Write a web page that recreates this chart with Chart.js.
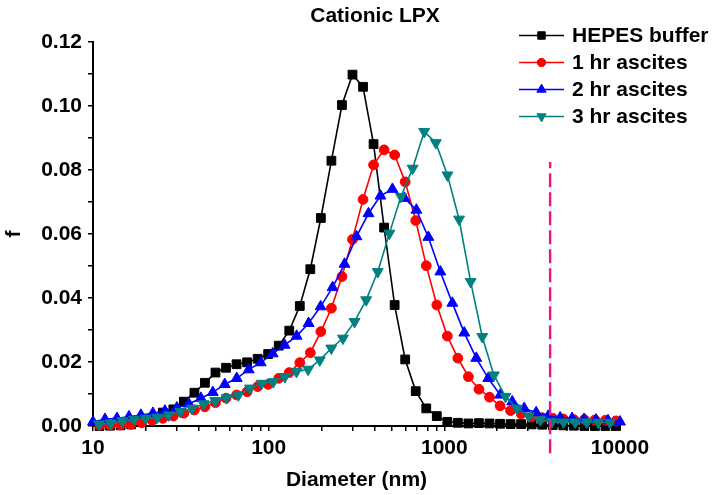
<!DOCTYPE html>
<html>
<head>
<meta charset="utf-8">
<title>Cationic LPX</title>
<script src="https://cdn.jsdelivr.net/npm/chart.js@4.4.1/dist/chart.umd.min.js"></script>
<style>
  html, body { margin: 0; padding: 0; background: #fff; }
  #wrap { width: 713px; height: 495px; }
</style>
</head>
<body>
<div id="wrap"><canvas id="chart" width="713" height="495"></canvas></div>
<script>
// size bins (nm) - black and red curves share one bin set, blue and teal have their own
const sizesA = [10.90, 12.51, 14.36, 16.49, 18.93, 21.74, 24.96, 28.66, 32.90, 37.78,
  43.37, 49.80, 57.18, 65.65, 75.37, 86.54, 99.36, 114.1, 131.0, 150.4,
  172.6, 198.2, 227.6, 261.3, 300.0, 344.4, 395.5, 454.1, 521.4, 598.6,
  687.3, 789.1, 906.0, 1040, 1194, 1371, 1575, 1808, 2076, 2383,
  2736, 3142, 3607, 4141, 4755, 5459, 6268, 7197, 8263, 9487];
const sizesB = [10.00, 11.70, 13.69, 16.02, 18.74, 21.93, 25.66, 30.02, 35.12, 41.09,
  48.08, 56.23, 65.79, 76.98, 90.07, 105.4, 123.3, 144.3, 168.8, 197.5,
  231.1, 270.4, 316.2, 370.0, 432.9, 506.5, 592.6, 693.4, 811.3, 949.2,
  1111, 1299, 1520, 1778, 2081, 2435, 2849, 3333, 3900, 4563,
  5337, 6245, 7305, 8548, 10000];
const sizesC = [10.83, 12.61, 14.69, 17.10, 19.91, 23.18, 26.99, 31.44, 36.60, 42.62,
  49.62, 57.78, 67.28, 78.34, 91.22, 106.2, 123.7, 144.0, 167.7, 195.3,
  227.3, 264.7, 308.3, 358.9, 417.9, 486.7, 566.6, 659.8, 768.3, 894.5,
  1042, 1213, 1412, 1644, 1915, 2229, 2596, 3023, 3519, 4098,
  4771, 5556, 6469, 7532, 8771];

// number fraction f
const hepes = [0.0000, 0.0001, 0.0002, 0.0005, 0.0012, 0.0024, 0.0042, 0.0052, 0.0076, 0.0104,
  0.0135, 0.0167, 0.0182, 0.0193, 0.0199, 0.0210, 0.0225, 0.0251, 0.0298, 0.0375,
  0.0490, 0.0650, 0.0829, 0.1003, 0.1098, 0.1060, 0.0881, 0.0620, 0.0378, 0.0208,
  0.0109, 0.0055, 0.0031, 0.0013, 0.0010, 0.0008, 0.0009, 0.0008, 0.0007, 0.0006,
  0.0006, 0.0005, 0.0004, 0.0003, 0.0002, 0.0001, 0.0000, 0.0000, 0.0000, 0.0000];
const ascites1h = [0.0002, 0.0003, 0.0003, 0.0005, 0.0010, 0.0017, 0.0024, 0.0031, 0.0040, 0.0050,
  0.0060, 0.0073, 0.0087, 0.0097, 0.0107, 0.0123, 0.0130, 0.0149, 0.0167, 0.0198,
  0.0229, 0.0295, 0.0368, 0.0467, 0.0583, 0.0708, 0.0816, 0.0863, 0.0847, 0.0763,
  0.0642, 0.0501, 0.0378, 0.0281, 0.0212, 0.0154, 0.0115, 0.0090, 0.0063, 0.0048,
  0.0038, 0.0028, 0.0026, 0.0024, 0.0022, 0.0020, 0.0020, 0.0019, 0.0018, 0.0016];
const ascites2h = [0.0013, 0.0021, 0.0024, 0.0029, 0.0034, 0.0040, 0.0047, 0.0057, 0.0069, 0.0087,
  0.0105, 0.0130, 0.0149, 0.0176, 0.0198, 0.0226, 0.0253, 0.0281, 0.0321, 0.0373,
  0.0433, 0.0506, 0.0592, 0.0664, 0.0719, 0.0740, 0.0712, 0.0675, 0.0590, 0.0482,
  0.0384, 0.0291, 0.0212, 0.0149, 0.0097, 0.0076, 0.0055, 0.0042, 0.0031, 0.0026,
  0.0024, 0.0021, 0.0019, 0.0017, 0.0013];
const ascites3h = [0.0006, 0.0009, 0.0016, 0.0021, 0.0024, 0.0027, 0.0034, 0.0045, 0.0055, 0.0069,
  0.0079, 0.0088, 0.0097, 0.0118, 0.0133, 0.0138, 0.0154, 0.0170, 0.0177, 0.0206,
  0.0243, 0.0274, 0.0326, 0.0394, 0.0482, 0.0602, 0.0717, 0.0805, 0.0920, 0.0885,
  0.0784, 0.0646, 0.0451, 0.0279, 0.0159, 0.0092, 0.0055, 0.0031, 0.0019, 0.0013,
  0.0012, 0.0012, 0.0012, 0.0011, 0.0011];

const seriesLabels = ['HEPES buffer', '1 hr ascites', '2 hr ascites', '3 hr ascites'];

// cut-off marker (dashed line)
const cutoffX = 4000;
const cutoffRange = [-0.0085, 0.0825];

// axis ticks
const xTicks = [10, 20, 30, 40, 50, 60, 70, 80, 90, 100, 200, 300, 400, 500, 600, 700, 800, 900,
  1000, 2000, 3000, 4000, 5000, 6000, 7000, 8000, 9000, 10000];
const xTickLabels = ['10', '100', '1000', '10000'];
const yTicks = [0, 0.01, 0.02, 0.03, 0.04, 0.05, 0.06, 0.07, 0.08, 0.09, 0.10, 0.11, 0.12];
const yTickLabels = ['0.00', '0.02', '0.04', '0.06', '0.08', '0.10', '0.12'];

const FONT = "'Liberation Sans', Arial, sans-serif";

function toPoints(xs, ys) {
  return xs.map((x, i) => ({ x: x, y: ys[i] }));
}

function series(label, xs, ys, color, style, radius, rotation, order) {
  return {
    label: label,
    data: toPoints(xs, ys),
    yAxisID: 'y',
    borderColor: color,
    backgroundColor: color,
    pointBackgroundColor: color,
    pointBorderColor: color,
    borderWidth: 1.6,
    pointStyle: style,
    pointRadius: radius,
    pointRotation: rotation,
    pointBorderWidth: 1,
    tension: 0,
    clip: false,
    order: order
  };
}

// legend drawn inside the plot, top right
const sideLegend = {
  id: 'sideLegend',
  afterDraw(chart) {
    const ctx = chart.ctx;
    ctx.save();
    seriesLabels.forEach((label, i) => {
      const ds = chart.data.datasets[i];
      const y = 35.5 + i * 27;
      ctx.strokeStyle = ds.borderColor;
      ctx.lineWidth = 1.6;
      ctx.beginPath();
      ctx.moveTo(519, y);
      ctx.lineTo(564, y);
      ctx.stroke();
      ctx.fillStyle = ds.pointBackgroundColor;
      ctx.lineWidth = 1;
      Chart.helpers.drawPoint(ctx, {
        pointStyle: ds.pointStyle,
        radius: ds.pointRadius * 0.85,
        rotation: ds.pointRotation,
        borderWidth: 1
      }, 541.5, y);
      ctx.fillStyle = '#000';
      ctx.font = 'bold 21px ' + FONT;
      ctx.textAlign = 'left';
      ctx.textBaseline = 'middle';
      ctx.fillText(label, 572, y + 1);
    });
    ctx.restore();
  }
};

const datasets = [
  series(seriesLabels[0], sizesA, hepes, '#000000', 'rect', 6.2, 0, 4),
  series(seriesLabels[1], sizesA, ascites1h, '#ff0000', 'circle', 4.9, 0, 3),
  series(seriesLabels[2], sizesB, ascites2h, '#0000ff', 'triangle', 6.3, 0, 2),
  series(seriesLabels[3], sizesC, ascites3h, '#008080', 'triangle', 6.3, 180, 1),
  {
    label: 'cutoff',
    data: cutoffRange.map(v => ({ x: cutoffX, y: v })),
    yAxisID: 'y',
    borderColor: '#f0147a',
    borderWidth: 2.4,
    borderDash: [14, 5],
    pointRadius: 0,
    clip: false,
    order: 0
  }
];

const axisFont = { family: FONT, size: 21, weight: 'bold' };

new Chart(document.getElementById('chart'), {
  type: 'line',
  data: { datasets: datasets },
  plugins: [sideLegend],
  options: {
    responsive: false,
    animation: false,
    layout: { padding: { left: 37, right: 0, top: 0, bottom: 0 } },
    plugins: {
      legend: { display: false },
      tooltip: { enabled: false },
      title: {
        display: true,
        text: 'Cationic LPX',
        color: '#000',
        font: { family: FONT, size: 21, weight: 'bold' },
        padding: { top: 4, bottom: 12.8 }
      }
    },
    scales: {
      x: {
        type: 'logarithmic',
        min: 10,
        max: 10000,
        afterBuildTicks: axis => { axis.ticks = xTicks.map(v => ({ value: v })); },
        afterFit: scale => { scale.height = 69; },
        ticks: {
          autoSkip: false,
          maxRotation: 0,
          color: '#000',
          padding: 5,
          font: axisFont,
          callback: value => (xTickLabels.includes(String(value)) ? String(value) : '')
        },
        grid: { drawOnChartArea: false, drawTicks: true, tickLength: 5, color: '#000', lineWidth: 1.5 },
        border: { display: true, color: '#000', width: 2 },
        title: {
          display: true,
          text: 'Diameter (nm)',
          color: '#000',
          font: axisFont,
          padding: { top: 0, bottom: 2 }
        }
      },
      y: {
        min: 0,
        max: 0.12,
        afterBuildTicks: axis => { axis.ticks = yTicks.map(v => ({ value: v })); },
        afterFit: scale => { scale.width = 56; },
        ticks: {
          autoSkip: false,
          color: '#000',
          padding: 6,
          font: axisFont,
          callback: (value, index) => (index % 2 === 0 ? yTickLabels[index / 2] : '')
        },
        grid: { drawOnChartArea: false, drawTicks: true, tickLength: 5, color: '#000', lineWidth: 1.5 },
        border: { display: true, color: '#000', width: 2 },
        title: {
          display: true,
          text: 'f',
          color: '#000',
          font: axisFont,
          padding: { top: -35, bottom: 0 }
        }
      },
      // empty axis on the right that only reserves room for the legend text
      yRight: {
        position: 'right',
        min: 0,
        max: 0.12,
        afterFit: scale => { scale.width = 93; },
        ticks: { display: false },
        grid: { display: false },
        border: { display: false }
      }
    }
  }
});
</script>
</body>
</html>
